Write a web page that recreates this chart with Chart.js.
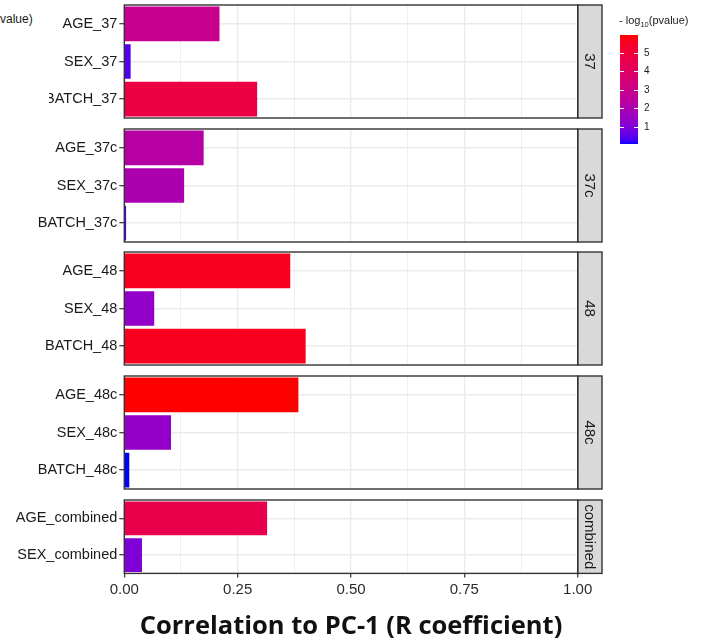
<!DOCTYPE html>
<html>
<head>
<meta charset="utf-8">
<script src="https://cdn.jsdelivr.net/npm/chart.js@4.4.1/dist/chart.umd.min.js"></script>
<style>
  html, body { margin: 0; padding: 0; background: #fff; }
  #wrap { position: relative; width: 703px; height: 642px; overflow: hidden; background: #fff; }
  #wrap canvas { position: absolute; }
  #cover { position: absolute; left: 0; top: 0; width: 49px; height: 190px; background: #fff; z-index: 2; }
  #cover span { position: absolute; left: 0; top: 12px; font: 12px "Liberation Sans", Arial, sans-serif; color: #1a1a1a; }
</style>
</head>
<body>
<div id="wrap"><div id="cover"><span>value)</span></div></div>
<script>
// facets, top to bottom
var facets = ['37', '37c', '48', '48c', 'combined'];

var labels37 = ['AGE_37', 'SEX_37', 'BATCH_37'];
var corr37 = [0.210, 0.014, 0.293];
var logp37 = [2.9, 0.4, 4.8];

var labels37c = ['AGE_37c', 'SEX_37c', 'BATCH_37c'];
var corr37c = [0.175, 0.132, 0.004];
var logp37c = [2.3, 2.0, 0.3];

var labels48 = ['AGE_48', 'SEX_48', 'BATCH_48'];
var corr48 = [0.366, 0.066, 0.400];
var logp48 = [5.55, 1.35, 5.6];

var labels48c = ['AGE_48c', 'SEX_48c', 'BATCH_48c'];
var corr48c = [0.384, 0.103, 0.011];
var logp48c = [5.97, 1.4, 0.05];

var labelsComb = ['AGE_combined', 'SEX_combined'];
var corrComb = [0.315, 0.039];
var logpComb = [4.55, 1.0];

var xTickLabels = [0, 0.25, 0.5, 0.75, 1];
var legendTicks = [1, 2, 3, 4, 5];

var panelLabels = [labels37, labels37c, labels48, labels48c, labelsComb];
var panelCorr = [corr37, corr37c, corr48, corr48c, corrComb];
var panelLogp = [logp37, logp37c, logp48, logp48c, logpComb];

var allP = [].concat(logp37, logp37c, logp48, logp48c, logpComb);
var pMin = Math.min.apply(null, allP);
var pMax = Math.max.apply(null, allP);

// layout
var ROW = 37.5, GAP = 11.2, TOP0 = 5, PAD = 3;
var CANVAS_W = 612, AREA_RIGHT = 577.7, AXIS_W = 124.3, STRIP_W = 24.3;
var wrap = document.getElementById('wrap');

Chart.defaults.font.family = '"Liberation Sans", Arial, sans-serif';

// blue -> red gradient in Lab space (like ggplot's scale_fill_gradient)
var WHITE = [0.95047, 1, 1.08883];
function lin(c) { c /= 255; return c <= 0.04045 ? c / 12.92 : Math.pow((c + 0.055) / 1.055, 2.4); }
function gam(c) {
    c = c <= 0.0031308 ? 12.92 * c : 1.055 * Math.pow(c, 1 / 2.4) - 0.055;
    return Math.round(Math.max(0, Math.min(1, c)) * 255);
}
function rgbToLab(rgb) {
    var r = lin(rgb[0]), g = lin(rgb[1]), b = lin(rgb[2]);
    var x = (0.4124 * r + 0.3576 * g + 0.1805 * b) / WHITE[0];
    var y = (0.2126 * r + 0.7152 * g + 0.0722 * b) / WHITE[1];
    var z = (0.0193 * r + 0.1192 * g + 0.9505 * b) / WHITE[2];
    var f = function (t) { return t > 0.008856 ? Math.cbrt(t) : 7.787 * t + 16 / 116; };
    var fx = f(x), fy = f(y), fz = f(z);
    return [116 * fy - 16, 500 * (fx - fy), 200 * (fy - fz)];
}
function labToRgb(lab) {
    var fy = (lab[0] + 16) / 116, fx = fy + lab[1] / 500, fz = fy - lab[2] / 200;
    var finv = function (t) { return t * t * t > 0.008856 ? t * t * t : (t - 16 / 116) / 7.787; };
    var x = finv(fx) * WHITE[0], y = finv(fy) * WHITE[1], z = finv(fz) * WHITE[2];
    return [gam(3.2406 * x - 1.5372 * y - 0.4986 * z),
            gam(-0.9689 * x + 1.8758 * y + 0.0415 * z),
            gam(0.0557 * x - 0.2040 * y + 1.0570 * z)];
}
var labLow = rgbToLab([0, 0, 255]);
var labHigh = rgbToLab([255, 0, 0]);
function fillColor(v) {
    var t = (v - pMin) / (pMax - pMin);
    t = Math.max(0, Math.min(1, t));
    var rgb = labToRgb([0, 1, 2].map(function (k) { return labLow[k] + t * (labHigh[k] - labLow[k]); }));
    return 'rgb(' + rgb.join(',') + ')';
}

function isMajor(v) { return xTickLabels.some(function (m) { return Math.abs(m - v) < 1e-6; }); }

// panel border + right strip
var panelFrame = {
    id: 'panelFrame',
    afterDraw: function (chart, args, opts) {
        var a = chart.chartArea, c = chart.ctx;
        c.save();
        c.fillStyle = '#d9d9d9';
        c.fillRect(a.right, a.top, STRIP_W, a.bottom - a.top);
        c.strokeStyle = '#333333';
        c.lineWidth = 1.4;
        c.strokeRect(a.left, a.top, a.right - a.left, a.bottom - a.top);
        c.strokeRect(a.right, a.top, STRIP_W, a.bottom - a.top);
        c.translate(a.right + STRIP_W / 2, (a.top + a.bottom) / 2);
        c.rotate(Math.PI / 2);
        c.fillStyle = '#1a1a1a';
        c.font = '15px "Liberation Sans", Arial, sans-serif';
        c.textAlign = 'center';
        c.textBaseline = 'middle';
        c.fillText(opts.name, 0, 1);
        c.restore();
    }
};

var addPanel = function (i, panelTop) {
    var last = i === facets.length - 1;
    var areaH = panelLabels[i].length * ROW;
    var canvasTop = Math.round(panelTop) - PAD;
    var canvasH = last ? 642 - canvasTop : Math.round(areaH) + 2 * PAD;

    var canvas = document.createElement('canvas');
    canvas.width = CANVAS_W;
    canvas.height = canvasH;
    canvas.style.left = '0px';
    canvas.style.top = canvasTop + 'px';
    wrap.appendChild(canvas);

    var xScale = {
        type: 'linear', min: 0, max: 1,
        ticks: {
            stepSize: 0.125, autoSkip: false, maxRotation: 0, display: last, padding: 3,
            color: '#2b2b2b', font: { size: 15 },
            callback: function (v) { return isMajor(v) ? v.toFixed(2) : ''; }
        },
        grid: {
            color: '#ebebeb', drawTicks: last, tickLength: 4,
            lineWidth: function (ctx) { return ctx.tick && isMajor(ctx.tick.value) ? 1.4 : 0.8; },
            tickColor: function (ctx) { return ctx.tick && isMajor(ctx.tick.value) ? '#333333' : 'rgba(0,0,0,0)'; },
            tickWidth: 1.2
        },
        border: { display: false }
    };
    if (last) {
        xScale.title = {
            display: true, text: 'Correlation to PC-1 (R coefficient)', color: '#111111',
            font: { family: '"Open Sans"', size: 25.5, weight: 'bold' },
            padding: { top: 10, bottom: 0 }
        };
    } else {
        xScale.afterFit = function (s) { s.height = 0; };
    }

    new Chart(canvas, {
        type: 'bar',
        data: {
            labels: panelLabels[i],
            datasets: [{
                data: panelCorr[i],
                backgroundColor: panelLogp[i].map(fillColor),
                borderWidth: 0,
                barPercentage: 0.92,
                categoryPercentage: 1
            }]
        },
        options: {
            indexAxis: 'y',
            responsive: false,
            animation: false,
            layout: { padding: { top: PAD, bottom: last ? 0 : PAD, left: 0, right: CANVAS_W - AREA_RIGHT } },
            plugins: {
                legend: { display: false },
                tooltip: { enabled: false },
                panelFrame: { name: facets[i] }
            },
            scales: {
                x: xScale,
                y: {
                    ticks: { autoSkip: false, padding: 2, color: '#1a1a1a', font: { size: 14.5 } },
                    grid: { offset: false, color: '#ebebeb', lineWidth: 1.4, tickLength: 5, tickColor: '#333333', tickWidth: 1.2 },
                    border: { display: false },
                    afterFit: function (s) {
                        s.width = AXIS_W;
                        s.paddingTop = 0;
                        s.paddingBottom = 0;
                    }
                }
            }
        },
        plugins: [panelFrame]
    });
    return panelTop + areaH + GAP;
};

var drawLegend = function () {
    var cv = document.createElement('canvas');
    cv.width = 103;
    cv.height = 160;
    cv.style.left = '600px';
    cv.style.top = '0px';
    wrap.appendChild(cv);
    var c = cv.getContext('2d');
    var bx = 20, bw = 18, btop = 35, bh = 109;
    for (var y = 0; y < bh; y++) {
        c.fillStyle = fillColor(pMax - (y + 0.5) / bh * (pMax - pMin));
        c.fillRect(bx, btop + y, bw, 1);
    }
    c.strokeStyle = '#ffffff';
    c.lineWidth = 1;
    c.fillStyle = '#1a1a1a';
    c.font = '10px "Liberation Sans", Arial, sans-serif';
    c.textBaseline = 'middle';
    legendTicks.forEach(function (k) {
        var ty = Math.round(btop + bh - (k - pMin) / (pMax - pMin) * bh) + 0.5;
        c.beginPath();
        c.moveTo(bx, ty); c.lineTo(bx + 4, ty);
        c.moveTo(bx + bw - 4, ty); c.lineTo(bx + bw, ty);
        c.stroke();
        c.fillText(String(k), bx + bw + 6, ty);
    });
    // - log10(pvalue)
    c.textBaseline = 'alphabetic';
    var x = 19;
    c.font = '11px "Liberation Sans", Arial, sans-serif';
    c.fillText('- log', x, 24); x += c.measureText('- log').width;
    c.font = '7.5px "Liberation Sans", Arial, sans-serif';
    c.fillText('10', x, 27); x += c.measureText('10').width;
    c.font = '11px "Liberation Sans", Arial, sans-serif';
    c.fillText('(pvalue)', x, 24);
};

var panelY = TOP0;
for (var i = 0; i < facets.length; i++) {
    panelY = addPanel(i, panelY);
}
drawLegend();
</script>
</body>
</html>
